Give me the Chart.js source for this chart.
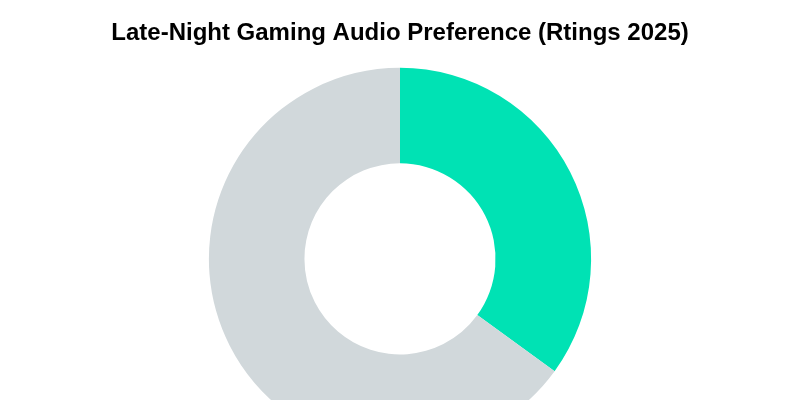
<!DOCTYPE html>
<html lang="en">
<head>
    <meta charset="UTF-8">
    <title>Late-Night Gaming Audio Preference</title>
    <script src="https://cdn.jsdelivr.net/npm/chart.js"></script>
    <style>
        html, body { margin: 0; padding: 0; background: #fff; overflow: hidden; }
        .chart-container { position: relative; width: 800px; height: 450px; }
    </style>
</head>
<body>
    <div class="chart-container">
        <canvas id="audioChart"></canvas>
    </div>
    <script>
        const labels = ['Headphones', 'Speakers'];
        const shares = [35, 65];
        const colors = ['#00E2B4', '#D1D8DB'];

        new Chart(document.getElementById('audioChart'), {
            type: 'doughnut',
            data: {
                labels: labels,
                datasets: [{
                    data: shares,
                    backgroundColor: colors,
                    borderWidth: 0
                }]
            },
            options: {
                responsive: true,
                maintainAspectRatio: false,
                animation: false,
                cutout: '50%',
                layout: { padding: 0 },
                plugins: {
                    legend: { display: false },
                    tooltip: { enabled: false },
                    title: {
                        display: true,
                        text: 'Late-Night Gaming Audio Preference (Rtings 2025)',
                        color: '#000',
                        font: { family: 'Liberation Sans, Arial, sans-serif', size: 24, weight: 'bold' },
                        padding: { top: 19, bottom: 20 }
                    }
                }
            }
        });
    </script>
</body>
</html>
